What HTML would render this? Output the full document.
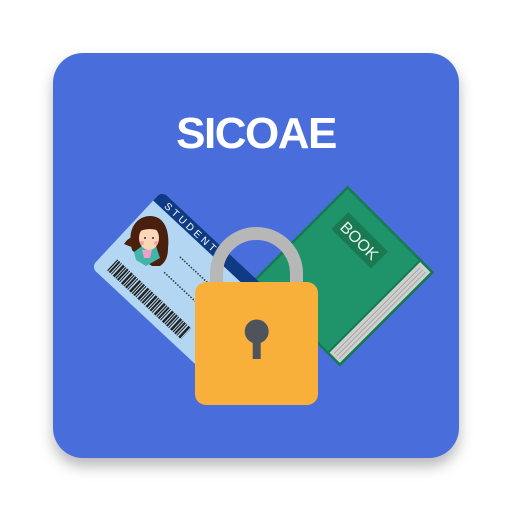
<!DOCTYPE html>
<html><head><meta charset="utf-8"><style>
html,body{margin:0;padding:0;background:#fff;width:512px;height:512px;overflow:hidden}
</style></head><body>
<svg width="512" height="512" viewBox="0 0 512 512" xmlns="http://www.w3.org/2000/svg">
<defs>
<filter id="sh" x="-20%" y="-20%" width="140%" height="150%">
<feDropShadow dx="0" dy="8" stdDeviation="7" flood-color="#000" flood-opacity="0.28"/>
</filter>
<clipPath id="cardclip"><rect x="0" y="0" width="180" height="104" rx="7"/></clipPath>
</defs>
<rect x="53" y="53" width="406" height="405" rx="30" fill="#4a6edb" filter="url(#sh)"/>
<text x="256" y="148" text-anchor="middle" font-family="Liberation Sans, sans-serif" font-weight="bold" font-size="44" letter-spacing="-1.5" fill="#fff">SICOAE</text>

<!-- Book -->
<g transform="translate(255,280) rotate(-45)">
<rect x="0" y="0" width="131" height="120" fill="#1f936a" stroke="#157a50" stroke-width="2.5"/>
<rect x="1.5" y="104" width="128" height="14.5" fill="#d0d0d0"/>
<line x1="4" y1="108" x2="126" y2="108" stroke="#a8a8a8" stroke-width="1"/>
<line x1="4" y1="111.5" x2="126" y2="111.5" stroke="#a8a8a8" stroke-width="1"/>
<line x1="4" y1="115" x2="126" y2="115" stroke="#a8a8a8" stroke-width="1"/>
<line x1="0" y1="103" x2="131" y2="103" stroke="#157a50" stroke-width="2"/>
<rect x="90" y="18" width="24" height="56" fill="#197a52"/>
<text transform="translate(96,46) rotate(90)" text-anchor="middle" font-family="Liberation Sans, sans-serif" font-size="16" fill="#e8f4ee">BOOK</text>
</g>

<!-- Card -->
<g transform="translate(162,191) rotate(43)">
<g clip-path="url(#cardclip)">
<rect x="0" y="0" width="180" height="104" fill="#b3d7f2"/>
<rect x="0" y="0" width="180" height="13" fill="#0f3b85"/>
</g>
<text x="12" y="10.5" font-family="Liberation Sans, sans-serif" font-size="10" letter-spacing="3.2" fill="#fff">STUDENT</text>
<g stroke="#333" stroke-width="1.5" stroke-dasharray="1.5 1.5">
<line x1="58" y1="36" x2="100" y2="36"/>
<line x1="57" y1="58" x2="100" y2="58"/>
</g>
<g stroke="#222" stroke-dasharray="1.2 1 2 1 1 1.5 2.5 1" stroke-width="15">
<line x1="14" y1="88" x2="115" y2="88"/>
</g>
</g>
<!-- face -->
<g>
<path d="M132,250 C126,228 138,216 150,216 C164,216 170,230 168,248 C168,256 166,262 160,266 L152,266 L140,258 Z" fill="#4a1f0d"/>
<path d="M124,244 C128,238 132,236 136,238 L134,248 Z" fill="#4a1f0d"/>
<path d="M134,252 L142,246 L156,246 L160,258 L146,266 L136,260 Z" fill="#3fb6a8"/>
<path d="M142,250 L152,250 L150,258 L144,258 Z" fill="#f0a0c8"/>
<ellipse cx="149" cy="238" rx="10" ry="12" fill="#fbd6b8"/>
<path d="M138,232 C142,222 156,222 161,232 C154,228 146,228 138,232 Z" fill="#4a1f0d"/>
<circle cx="145" cy="238" r="1" fill="#333"/><circle cx="153" cy="238" r="1" fill="#333"/>
<circle cx="142" cy="243" r="2" fill="#f5a5a0"/><circle cx="156" cy="243" r="2" fill="#f5a5a0"/>
</g>

<!-- Lock -->
<path d="M216.5,282 L216.5,273.5 A40,40 0 0 1 296.5,273.5 L296.5,282" fill="none" stroke="#b7b7b7" stroke-width="13"/>
<rect x="195" y="282" width="123" height="123" rx="11" fill="#f9b03a"/>
<circle cx="256.7" cy="331.5" r="12" fill="#4f535c"/>
<rect x="252.7" y="334" width="8" height="25" fill="#4f535c"/>
</svg>
</body></html>
